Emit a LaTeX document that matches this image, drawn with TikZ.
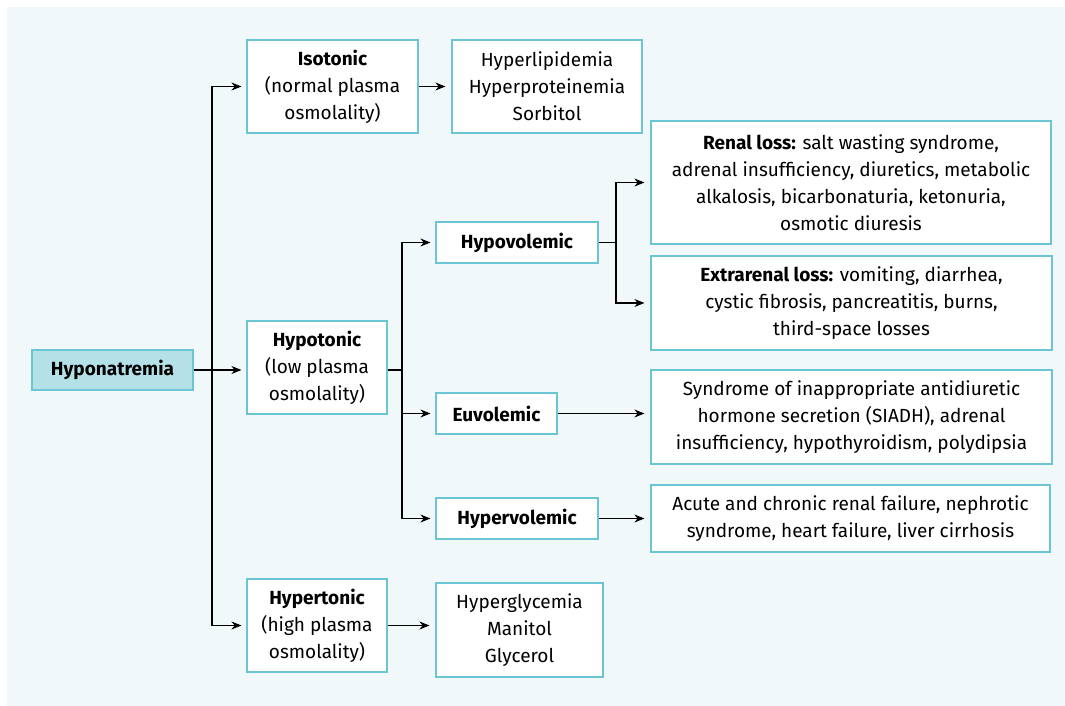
\documentclass[tikz,border=0pt]{standalone}
\usepackage{fontspec}
\setmainfont{Fira Sans}
\usepackage{tikz}
\usetikzlibrary{arrows.meta}

\definecolor{bgblue}{HTML}{F0F8FA}
\definecolor{boxline}{HTML}{6CC5D2}
\definecolor{rootfill}{HTML}{B4E0E7}

\begin{document}
\begin{tikzpicture}[x=1pt,y=-1pt]
        \useasboundingbox (0,0) rectangle (1065,706);
        \fill[bgblue] (7,7) rectangle (1065,706);
        \begin{scope}[every node/.style={draw=boxline, line width=1.2pt, fill=white, align=center, inner sep=0pt, font=\fontsize{19}{27}\selectfont},
                      every path/.style={line width=1.1pt, >={Stealth[length=10pt,width=8pt]}}]
                \node[fill=rootfill, minimum width=161pt, minimum height=40pt] (Hypo) at (112.5,370) {\textbf{Hyponatremia}};

                \node[minimum width=171pt, minimum height=93pt] (Iso) at (332.5,86.5) {\textbf{Isotonic}\\(normal plasma\\osmolality)};
                \node[minimum width=140pt, minimum height=93pt] (Hypot) at (317,367.5) {\textbf{Hypotonic}\\(low plasma\\osmolality)};
                \node[minimum width=140pt, minimum height=93pt] (Hypert) at (317,625.5) {\textbf{Hypertonic}\\(high plasma\\osmolality)};

                \node[minimum width=190pt, minimum height=93pt] (IsoC) at (547,86.5) {Hyperlipidemia\\Hyperproteinemia\\Sorbitol};
                \node[minimum width=167pt, minimum height=94pt] (HypertC) at (519.5,630) {Hyperglycemia\\Manitol\\Glycerol};

                \node[minimum width=162pt, minimum height=41pt] (Hypov) at (517,242.5) {\textbf{Hypovolemic}};
                \node[minimum width=121pt, minimum height=41pt] (Euv) at (496.5,413.5) {\textbf{Euvolemic}};
                \node[minimum width=162pt, minimum height=41pt] (Hyperv) at (517,518.5) {\textbf{Hypervolemic}};

                \node[minimum width=400pt, minimum height=123pt] (Renal) at (851,182.5) {\textbf{Renal loss:} salt wasting syndrome,\\adrenal insufficiency, diuretics, metabolic\\alkalosis, bicarbonaturia, ketonuria,\\osmotic diuresis};
                \node[minimum width=401pt, minimum height=94pt] (Extra) at (851.5,303) {\textbf{Extrarenal loss:} vomiting, diarrhea,\\cystic fibrosis, pancreatitis, burns,\\third-space losses};
                \node[minimum width=401pt, minimum height=94pt] (Siadh) at (851.5,417) {Syndrome of inappropriate antidiuretic\\hormone secretion (SIADH), adrenal\\insufficiency, hypothyroidism, polydipsia};
                \node[minimum width=399pt, minimum height=67pt] (Acute) at (850.5,518.5) {Acute and chronic renal failure, nephrotic\\syndrome, heart failure, liver cirrhosis};

                % branch points
                \coordinate (J1) at (212,370);
                \coordinate (J2) at (402,370);
                \coordinate (J3) at (616,242.5);

                \draw[->, shorten >=5pt] (Hypo.east) -- (Hypo.east -| Hypot.west);
                \draw[->, shorten >=5pt] (J1) |- (Iso.west);
                \draw[->, shorten >=5pt] (J1) |- (Hypert.west);

                \draw[->, shorten >=6pt] (Iso.east) -- (IsoC.west);
                \draw[->, shorten >=6pt] (Hypert.east) -- (Hypert.east -| HypertC.west);

                \draw (Hypot.east |- J2) -- (J2);
                \draw[->, shorten >=5pt] (J2) |- (Hypov.west);
                \draw[->, shorten >=5pt] (J2) |- (Euv.west);
                \draw[->, shorten >=5pt] (J2) |- (Hyperv.west);

                \draw (Hypov.east) -- (J3);
                \draw[->, shorten >=6pt] (J3) |- (Renal.west);
                \draw[->, shorten >=6pt] (J3) |- (Extra.west);

                \draw[->, shorten >=6pt] (Euv.east) -- (Euv.east -| Siadh.west);
                \draw[->, shorten >=6pt] (Hyperv.east) -- (Acute.west |- Hyperv.east);
        \end{scope}
\end{tikzpicture}
\end{document}
